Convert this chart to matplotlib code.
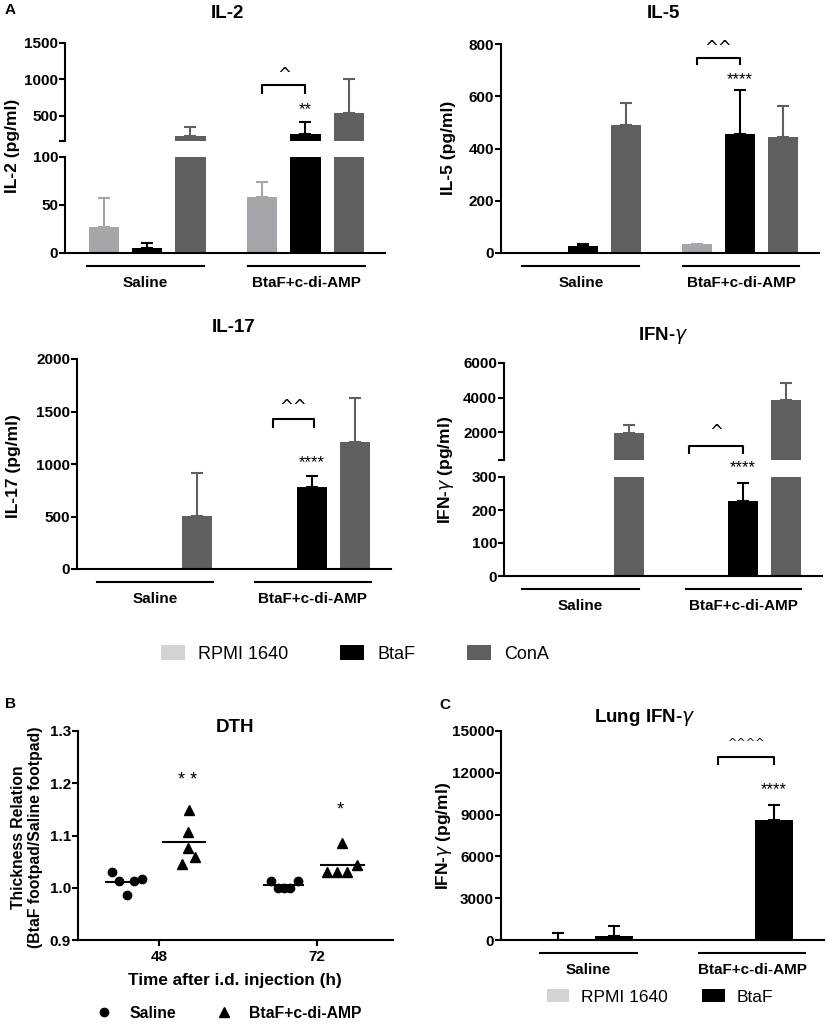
import matplotlib
matplotlib.use("Agg")
import matplotlib.pyplot as plt
import matplotlib.transforms as mtransforms
from matplotlib.patches import Patch
from matplotlib.lines import Line2D
import numpy as np

plt.rcParams["font.family"] = ["Liberation Sans", "DejaVu Sans"]
plt.rcParams["font.weight"] = "bold"
plt.rcParams["axes.labelweight"] = "bold"
plt.rcParams["mathtext.fontset"] = "custom"
plt.rcParams["mathtext.it"] = "DejaVu Sans:italic:normal"
plt.rcParams["mathtext.rm"] = "Liberation Sans:bold"

# ---- data ----
groups = ["Saline", "BtaF+c-di-AMP"]
stims = ["RPMI 1640", "BtaF", "ConA"]

# rows = groups, columns = stimulus (RPMI 1640, BtaF, ConA)
il2_mean = [[27, 5, 212], [58, 253, 540]]
il2_err = [[30, 5, 137], [16, 165, 460]]
il5_mean = [[3, 28, 490], [33, 455, 444]]
il5_err = [[0, 7, 84], [3, 168, 118]]
il17_mean = [[0, 0, 506], [0, 783, 1212]]
il17_err = [[0, 0, 409], [0, 105, 420]]
ifn_mean = [[1, 1, 1970], [0, 227, 3830]]
ifn_err = [[0, 0, 410], [0, 55, 990]]

lung_stims = ["RPMI 1640", "BtaF"]
lung_mean = [[30, 310], [60, 8612]]
lung_err = [[470, 690], [0, 1080]]

times = ["48", "72"]
dth_saline = [[1.031, 0.986, 1.016, 1.012, 1.012], [1.013, 1.000, 1.000, 1.000, 1.013]]
dth_btaf = [[1.148, 1.106, 1.076, 1.059, 1.045], [1.030, 1.030, 1.085, 1.030, 1.043]]

# ---- style / layout ----
c_rpmi, c_btaf, c_cona = "#a6a6aa", "#000000", "#5f5f5f"
bar_colors = [c_rpmi, c_btaf, c_cona]
legend_colors = ["#d3d3d3", c_btaf, c_cona]
lung_colors = ["#d3d3d3", c_btaf]
TICK = 11
YLAB = 12.5
TITLE = 13.5

W, H = 829, 1024
fig = plt.figure(figsize=(W / 100, H / 100), dpi=100)


def box(x0, y0, x1, y1):
    return [x0 / W, 1 - y1 / H, (x1 - x0) / W, (y1 - y0) / H]


def style(ax, bottom=True):
    for s in ["top", "right"]:
        ax.spines[s].set_visible(False)
    ax.spines["left"].set_linewidth(1.5)
    ax.spines["bottom"].set_linewidth(1.5)
    if not bottom:
        ax.spines["bottom"].set_visible(False)
    ax.tick_params(axis="y", length=4, width=1.5, pad=1, labelsize=TICK)
    ax.tick_params(axis="x", length=0, labelbottom=False)


def draw_bars(axes, means, errs, starts, colors, ecolors, width):
    for ax in axes:
        for g in range(len(means)):
            for s in range(len(means[g])):
                x = starts[g] + s
                ax.bar(x, means[g][s], width, color=colors[s], zorder=2)
                if errs[g][s] > 0:
                    ax.errorbar(x, means[g][s], yerr=[[0], [errs[g][s]]], fmt="none",
                                ecolor=ecolors[s], elinewidth=1.5, capsize=4.5,
                                capthick=1.5, zorder=1)


def group_lines(ax, spans, labels):
    base = ax.get_xaxis_transform()
    t_line = mtransforms.offset_copy(base, fig=fig, y=-13, units="dots")
    t_text = mtransforms.offset_copy(base, fig=fig, y=-30, units="dots")
    for (a, b), lab in zip(spans, labels):
        ax.plot([a, b], [0, 0], color="k", lw=1.5, transform=t_line, clip_on=False)
        ax.text((a + b) / 2, 0, lab, transform=t_text, ha="center", va="center", fontsize=11)


def bracket(ax, x0, x1, ytop, ybot, mark, ymark, size):
    ax.plot([x0, x0, x1, x1], [ybot, ytop, ytop, ybot], color="k", lw=1.5, clip_on=False)
    ax.text((x0 + x1) / 2, ymark, mark, ha="center", va="center", fontsize=size,
            family="DejaVu Sans", fontweight="normal", clip_on=False)


def stars(ax, x, y, mark, size=12):
    ax.text(x, y, mark, ha="center", va="center", fontsize=size, fontweight="normal", clip_on=False)


def ylab(x, y, s, size=YLAB, **kw):
    fig.text(x / W, 1 - y / H, s, rotation=90, ha="center", va="center", fontsize=size, **kw)


def title(x, y, s, size=TITLE):
    fig.text(x / W, 1 - y / H, s, ha="center", va="center", fontsize=size)


starts_A = [0, 3.66]
spans_A = [(-0.4, 2.32), (3.33, 6.04)]
xlim_A = (-0.9, 6.5)
ecol_A = bar_colors

# ---- IL-2 (broken axis) ----
ax2u = fig.add_axes(box(65, 43, 385, 141))
ax2l = fig.add_axes(box(65, 157, 385, 253))
draw_bars([ax2u, ax2l], il2_mean, il2_err, starts_A, bar_colors, ecol_A, 0.7)
for ax in (ax2u, ax2l):
    ax.set_xlim(*xlim_A)
style(ax2u, bottom=False)
style(ax2l)
ax2u.set_ylim(150, 1500)
ax2u.set_yticks([150, 500, 1000, 1500], ["", "500", "1000", "1500"])
ax2l.set_ylim(0, 100)
ax2l.set_yticks([0, 50, 100])
group_lines(ax2l, spans_A, groups)
bracket(ax2u, 3.66, 4.66, 925, 815, "^", 1060, 12)
stars(ax2u, 4.66, 582, "**")
title(227, 13, "IL-2")
ylab(12.5, 146, "IL-2 (pg/ml)")

# ---- IL-5 ----
ax5 = fig.add_axes(box(501, 44, 819, 253))
draw_bars([ax5], il5_mean, il5_err, starts_A, bar_colors, ecol_A, 0.7)
ax5.set_xlim(*xlim_A)
ax5.set_ylim(0, 800)
ax5.set_yticks([0, 200, 400, 600, 800])
style(ax5)
group_lines(ax5, spans_A, groups)
bracket(ax5, 3.66, 4.66, 746, 723, "^^", 784, 12)
stars(ax5, 4.66, 662, "****")
title(663, 14, "IL-5")
ylab(449, 148, "IL-5 (pg/ml)")

# ---- IL-17 ----
ax17 = fig.add_axes(box(77, 359, 391, 569))
draw_bars([ax17], il17_mean, il17_err, starts_A, bar_colors, ecol_A, 0.7)
ax17.set_xlim(-0.8, 6.5)
ax17.set_ylim(0, 2000)
ax17.set_yticks([0, 500, 1000, 1500, 2000])
style(ax17)
group_lines(ax17, [(-0.34, 2.36), (3.34, 6.03)], groups)
bracket(ax17, 3.75, 4.72, 1431, 1355, "^^", 1546, 12)
stars(ax17, 4.66, 1011, "****")
title(234, 328, "IL-17")
ylab(14, 466, "IL-17 (pg/ml)")

# ---- IFN-gamma (broken axis) ----
axiu = fig.add_axes(box(504, 363, 822, 460))
axil = fig.add_axes(box(504, 477, 822, 576))
draw_bars([axiu, axil], ifn_mean, ifn_err, starts_A, bar_colors, ecol_A, 0.7)
for ax in (axiu, axil):
    ax.set_xlim(*xlim_A)
style(axiu, bottom=False)
style(axil)
axiu.set_ylim(380, 6000)
axiu.set_yticks([380, 2000, 4000, 6000], ["", "2000", "4000", "6000"])
axil.set_ylim(0, 300)
axil.set_yticks([0, 100, 200, 300])
group_lines(axil, [(-0.47, 2.23), (3.33, 6.02)], groups)
bracket(axiu, 3.4, 4.66, 1188, 782, "^", 2000, 12)
stars(axil, 4.66, 327, "****")
title(663, 335, r"IFN-$\gamma$")
ylab(446, 470, r"IFN-$\gamma$ (pg/ml)")

# ---- legend A ----
fig.legend([Patch(facecolor=c) for c in legend_colors], stims, loc="center",
           bbox_to_anchor=(355 / W, 1 - 654 / H), ncol=3, frameon=False,
           prop={"weight": "normal", "size": 13},
           handlelength=1.33, handleheight=0.88, handletextpad=0.7, columnspacing=2.9)

# ---- B: DTH ----
axd = fig.add_axes(box(78, 731, 393, 940))
axd.set_xlim(-0.513, 1.48)
axd.set_ylim(0.9, 1.3)
axd.set_yticks([0.9, 1.0, 1.1, 1.2, 1.3])
style(axd)
axd.tick_params(axis="x", length=4, width=1.5, labelbottom=True, labelsize=TICK, pad=3)
axd.set_xticks([0, 1], times)
sal_jit = [[-0.089, 0.006, 0.10, -0.044, 0.05], [-0.082, -0.038, 0.0, 0.038, 0.089]]
bta_jit = [[0.03, 0.025, 0.02, 0.07, -0.013], [-0.095, -0.032, 0.0, 0.032, 0.095]]
for i in range(len(times)):
    cs, cb = i - 0.21, i + 0.16
    axd.plot(cs + np.array(sal_jit[i]), dth_saline[i], "o", color="k", ms=6, clip_on=False)
    axd.plot(cb + np.array(bta_jit[i]), dth_btaf[i], "^", color="k", ms=6.5, clip_on=False)
    axd.hlines(np.mean(dth_saline[i]), cs - 0.13, cs + 0.13, color="k", lw=1.5)
    axd.hlines(np.mean(dth_btaf[i]), cb - 0.14, cb + 0.14, color="k", lw=1.5)
stars(axd, 0.18, 1.206, "* *", 13)
stars(axd, 1.146, 1.149, "*", 13)
fig.text(235 / W, 1 - 980 / H, "Time after i.d. injection (h)", ha="center", va="center", fontsize=12.3)
title(235, 727, "DTH")
ylab(27, 837, "Thickness Relation\n(BtaF footpad/Saline footpad)", size=11.3, linespacing=1.1)
fig.legend([Line2D([], [], ls="none", marker="o", color="k", ms=6),
            Line2D([], [], ls="none", marker="^", color="k", ms=6.5)], groups,
           loc="center", bbox_to_anchor=(229 / W, 1 - 1013 / H), ncol=2, frameon=False,
           prop={"weight": "bold", "size": 11.3}, handlelength=1.0, handletextpad=1.1,
           columnspacing=2.6)

# ---- C: Lung IFN-gamma ----
axc = fig.add_axes(box(501, 731, 824, 940))
draw_bars([axc], lung_mean, lung_err, [0, 2.86], lung_colors, ["k", "k"], 0.68)
axc.set_xlim(-1.02, 4.75)
axc.set_ylim(0, 15000)
axc.set_yticks([0, 3000, 6000, 9000, 12000, 15000])
style(axc)
group_lines(axc, [(-0.32, 1.41), (2.52, 4.41)], groups)
bracket(axc, 2.86, 3.86, 13134, 12632, "^^^^", 14139, 8)
stars(axc, 3.86, 10766, "****")
title(645, 717, r"Lung IFN-$\gamma$")
ylab(444, 836, r"IFN-$\gamma$ (pg/ml)")
fig.legend([Patch(facecolor=c) for c in lung_colors], lung_stims, loc="center",
           bbox_to_anchor=(660 / W, 1 - 997 / H), ncol=2, frameon=False,
           prop={"weight": "normal", "size": 12.5},
           handlelength=1.27, handleheight=0.75, handletextpad=0.7, columnspacing=2.0)

# ---- panel letters ----
fig.text(10 / W, 1 - 10 / H, "A", ha="center", va="center", fontsize=11)
fig.text(11 / W, 1 - 704 / H, "B", ha="center", va="center", fontsize=11)
fig.text(445 / W, 1 - 705 / H, "C", ha="center", va="center", fontsize=11)

fig.savefig("out.png", dpi=100)
